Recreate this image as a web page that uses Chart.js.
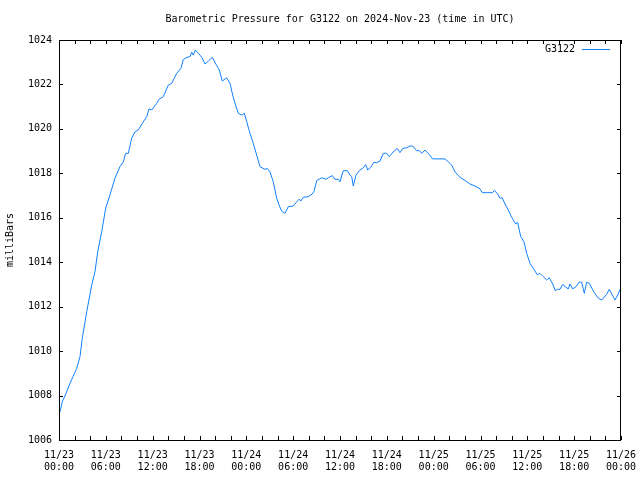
<!DOCTYPE html>
<html>
<head>
<meta charset="utf-8">
<script src="https://cdn.jsdelivr.net/npm/chart.js@4/dist/chart.umd.min.js"></script>
<style>
html,body{margin:0;padding:0;background:#fff;}
canvas{display:block;}
</style>
</head>
<body>
<canvas id="c" width="640" height="480"></canvas>
<script>
const chartTitle = 'Barometric Pressure for G3122 on 2024-Nov-23 (time in UTC)';
const seriesName = 'G3122';
const yAxisTitle = 'milliBars';

// hours since 2024-11-23 00:00 UTC
const hours = [0.13,0.42,0.9,1.41,1.79,2.27,2.69,2.98,3.55,4.19,
4.61,4.96,5.47,5.98,6.53,7.17,7.81,8.24,8.54,8.88,
9.31,9.74,10.16,10.67,11.24,11.53,11.88,12.52,12.81,13.36,
14.0,14.44,15.08,15.63,15.92,16.4,16.78,17.0,17.2,17.46,
17.85,18.06,18.32,18.7,19.13,19.64,20.11,20.54,20.92,21.48,
21.91,22.25,22.55,22.97,23.41,23.74,24.05,24.47,24.89,25.33,
25.75,26.39,26.69,27.03,27.45,27.89,28.18,28.53,28.95,29.38,
30.02,30.45,30.78,30.96,31.3,31.94,32.41,32.67,33.01,33.65,
34.2,34.5,35.01,35.36,35.78,36.0,36.42,36.93,37.28,37.5,
37.7,38.05,38.47,38.98,39.29,39.55,39.93,40.35,40.7,41.12,
41.55,41.98,42.31,42.83,43.34,43.68,44.03,44.54,44.97,45.31,
45.82,46.18,46.47,46.89,47.31,47.87,48.81,49.45,49.87,50.31,
50.73,51.37,52.01,52.65,53.29,53.93,54.23,54.79,55.56,55.77,
56.2,56.5,56.79,57.14,57.56,58.0,58.51,58.76,59.15,59.57,
59.92,60.34,60.76,61.28,61.62,62.04,62.48,62.81,63.25,63.58,
63.84,64.18,64.53,64.95,65.25,65.46,65.81,66.23,66.65,66.96,
67.3,67.6,67.94,68.54,69.09,69.53,70.17,70.5,71.23,71.65,
71.87];

const pressure = [1007.27,1007.72,1008.1,1008.55,1008.85,1009.22,1009.75,1010.57,1011.77,1012.97,
1013.57,1014.47,1015.37,1016.43,1017.03,1017.78,1018.30,1018.52,1018.90,1018.90,
1019.58,1019.87,1019.95,1020.25,1020.55,1020.90,1020.85,1021.15,1021.33,1021.45,
1021.97,1022.05,1022.50,1022.73,1023.12,1023.22,1023.25,1023.45,1023.32,1023.55,
1023.40,1023.32,1023.20,1022.92,1023.05,1023.22,1022.91,1022.65,1022.15,1022.30,
1022.05,1021.52,1021.15,1020.70,1020.62,1020.70,1020.32,1019.80,1019.35,1018.82,
1018.30,1018.18,1018.22,1018.07,1017.62,1016.88,1016.58,1016.30,1016.20,1016.50,
1016.53,1016.72,1016.84,1016.75,1016.92,1016.95,1017.06,1017.18,1017.67,1017.80,
1017.73,1017.80,1017.90,1017.73,1017.73,1017.62,1018.12,1018.12,1017.92,1017.85,
1017.43,1017.92,1018.12,1018.25,1018.40,1018.15,1018.27,1018.50,1018.48,1018.55,
1018.90,1018.90,1018.75,1018.97,1019.12,1018.93,1019.12,1019.15,1019.23,1019.23,
1019.02,1019.02,1018.90,1019.05,1018.90,1018.65,1018.65,1018.65,1018.52,1018.37,
1018.07,1017.82,1017.68,1017.52,1017.43,1017.30,1017.13,1017.13,1017.13,1017.24,
1017.07,1016.88,1016.90,1016.62,1016.35,1016.02,1015.72,1015.80,1015.15,1014.92,
1014.40,1013.95,1013.73,1013.43,1013.50,1013.35,1013.20,1013.30,1013.02,1012.72,
1012.78,1012.78,1013.00,1012.87,1012.80,1013.02,1012.80,1012.90,1013.11,1013.10,
1012.60,1013.10,1013.05,1012.65,1012.38,1012.30,1012.56,1012.78,1012.30,1012.57,
1012.78];

const xTickHours = [0,6,12,18,24,30,36,42,48,54,60,66,72];
const xTickLabels = [['11/23','00:00'],['11/23','06:00'],['11/23','12:00'],['11/23','18:00'],
  ['11/24','00:00'],['11/24','06:00'],['11/24','12:00'],['11/24','18:00'],
  ['11/25','00:00'],['11/25','06:00'],['11/25','12:00'],['11/25','18:00'],
  ['11/26','00:00']];
const yTickValues = [1006,1008,1010,1012,1014,1016,1018,1020,1022,1024];

const FONT = "'DejaVu Sans Mono', 'Liberation Mono', monospace";
const lineColor = '#1080ff';

const framePlugin = {
  id: 'frame',
  afterDraw(chart) {
    const ctx = chart.ctx;
    const a = chart.chartArea;
    const xs = chart.scales.x, ys = chart.scales.y;
    ctx.save();
    ctx.strokeStyle = '#000';
    ctx.lineWidth = 1;
    ctx.strokeRect(Math.round(a.left) + 0.5, Math.round(a.top) + 0.5,
      Math.round(a.right) - Math.round(a.left) - 1, Math.round(a.bottom) - Math.round(a.top));
    ctx.beginPath();
    const tl = 4;
    for (let h = xs.min; h <= xs.max; h += 2) {
      const px = Math.round(xs.getPixelForValue(h)) + 0.5;
      ctx.moveTo(px, a.bottom); ctx.lineTo(px, a.bottom - tl);
      ctx.moveTo(px, a.top); ctx.lineTo(px, a.top + tl);
    }
    yTickValues.forEach(v => {
      const py = Math.round(ys.getPixelForValue(v)) + 0.5;
      ctx.moveTo(a.left, py); ctx.lineTo(a.left + tl, py);
      ctx.moveTo(a.right, py); ctx.lineTo(a.right - tl, py);
    });
    ctx.stroke();

    // title
    ctx.fillStyle = '#000';
    ctx.font = '10px ' + FONT;
    ctx.textAlign = 'center';
    ctx.textBaseline = 'middle';
    ctx.fillText(chartTitle, (a.left + a.right) / 2, 19);

    // legend
    ctx.textAlign = 'right';
    ctx.fillText(seriesName, 575, 49);
    ctx.strokeStyle = lineColor;
    ctx.beginPath();
    ctx.moveTo(582, 49.5); ctx.lineTo(610, 49.5);
    ctx.stroke();
    ctx.restore();
  }
};

new Chart(document.getElementById('c'), {
  type: 'line',
  data: {
    datasets: [{
      label: seriesName,
      data: hours.map((h, i) => ({x: h, y: pressure[i]})),
      borderColor: lineColor,
      borderWidth: 1,
      pointRadius: 0,
      tension: 0,
      fill: false
    }]
  },
  options: {
    responsive: false,
    animation: false,
    devicePixelRatio: 1,
    layout: { padding: { left: 0, right: 19, top: 40, bottom: 0 } },
    plugins: { legend: { display: false }, tooltip: { enabled: false }, title: { display: false } },
    scales: {
      x: {
        type: 'linear',
        position: 'bottom',
        min: 0, max: 72,
        grid: { display: false, drawTicks: false },
        border: { display: false },
        afterBuildTicks: s => { s.ticks = xTickHours.map(v => ({value: v})); },
        ticks: {
          autoSkip: false, maxRotation: 0, minRotation: 0, padding: 9,
          color: '#000', font: { family: FONT, size: 10 },
          callback: v => { const i = xTickHours.indexOf(v); return i >= 0 ? xTickLabels[i] : ''; }
        },
        afterFit: s => { s.height = 40; s.paddingLeft = 0; s.paddingRight = 0; }
      },
      y: {
        type: 'linear',
        position: 'left',
        min: 1006, max: 1024,
        grid: { display: false, drawTicks: false },
        border: { display: false },
        afterBuildTicks: s => { s.ticks = yTickValues.map(v => ({value: v})); },
        ticks: {
          padding: 7, color: '#000', font: { family: FONT, size: 10 },
          callback: v => String(v)
        },
        title: { display: true, text: yAxisTitle, color: '#000', font: { family: FONT, size: 10 }, padding: { top: 4, bottom: 4 } },
        afterFit: s => { s.width = 59; s.paddingTop = 0; s.paddingBottom = 0; }
      }
    }
  },
  plugins: [framePlugin]
});
</script>
</body>
</html>
